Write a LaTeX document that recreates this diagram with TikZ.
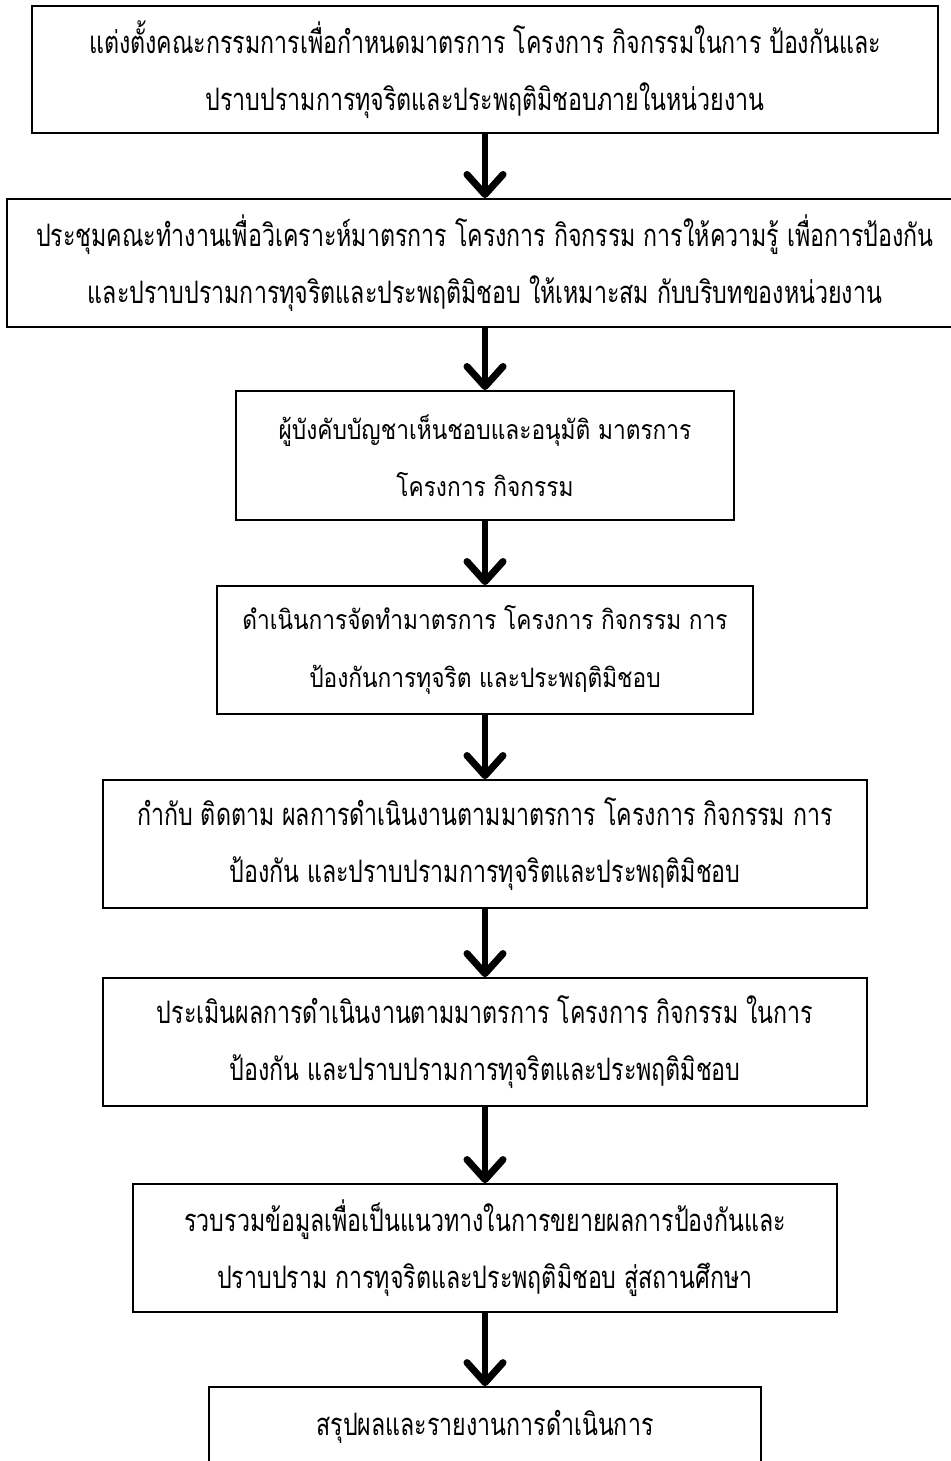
\documentclass[tikz,border=0pt]{standalone}
\usepackage{fontspec}
\newfontfamily\thaifont[Script=Thai,FakeStretch=0.85]{Loma}
\newfontfamily\thainarrow[Script=Thai,FakeStretch=0.75]{Loma}
\usetikzlibrary{positioning,arrows.meta}

\begin{document}
\begin{tikzpicture}[
  x=0.025cm, y=-0.025cm,
  box/.style={draw=black, line width=1.4pt, align=center, inner sep=0pt, minimum width=#1, minimum height=3.2cm},
  box/.default=13.4cm,
  narrow/.style={font=\thainarrow\fontsize{22pt}{40.5pt}\selectfont},
  wide/.style={font=\thaifont\fontsize{19pt}{41pt}\selectfont},
  arr/.style={-{Straight Barb[length=0.5cm, width=0.9cm, line width=5pt, round]}, line width=3.6pt, black}]
\useasboundingbox (0,0) rectangle (950,1461);
\node[box=22.63cm, narrow, minimum height=3.175cm] (s1) at (485,69.5)
  {แต่งตั้งคณะกรรมการเพื่อกำหนดมาตรการ โครงการ กิจกรรมในการ ป้องกันและ\\ปราบปรามการทุจริตและประพฤติมิชอบภายในหน่วยงาน};
\node[box=23.9cm, narrow, below=1.6cm of s1] (s2)
  {ประชุมคณะทำงานเพื่อวิเคราะห์มาตรการ โครงการ กิจกรรม การให้ความรู้ เพื่อการป้องกัน\\และปราบปรามการทุจริตและประพฤติมิชอบ ให้เหมาะสม กับบริบทของหน่วยงาน};
\node[box=12.43cm, wide, minimum height=3.225cm, below=1.55cm of s2] (s3)
  {ผู้บังคับบัญชาเห็นชอบและอนุมัติ มาตรการ\\โครงการ กิจกรรม};
\node[box=13.4cm, wide, below=1.6cm of s3] (s4)
  {ดำเนินการจัดทำมาตรการ โครงการ กิจกรรม การ\\ป้องกันการทุจริต และประพฤติมิชอบ};
\node[box=19.1cm, narrow, below=1.6cm of s4] (s5)
  {กำกับ ติดตาม ผลการดำเนินงานตามมาตรการ โครงการ กิจกรรม การ\\ป้องกัน และปราบปรามการทุจริตและประพฤติมิชอบ};
\node[box=19.1cm, narrow, below=1.7cm of s5] (s6)
  {ประเมินผลการดำเนินงานตามมาตรการ โครงการ กิจกรรม ในการ\\ป้องกัน และปราบปรามการทุจริตและประพฤติมิชอบ};
\node[box=17.58cm, narrow, below=1.9cm of s6] (s7)
  {รวบรวมข้อมูลเพื่อเป็นแนวทางในการขยายผลการป้องกันและ\\ปราบปราม การทุจริตและประพฤติมิชอบ สู่สถานศึกษา};
\node[box=13.8cm, narrow, below=1.825cm of s7] (s8)
  {สรุปผลและรายงานการดำเนินการ\\~};
\draw[arr] (s1) -- (s2);
\draw[arr] (s2) -- (s3);
\draw[arr] (s3) -- (s4);
\draw[arr] (s4) -- (s5);
\draw[arr] (s5) -- (s6);
\draw[arr] (s6) -- (s7);
\draw[arr] (s7) -- (s8);
\end{tikzpicture}
\end{document}
